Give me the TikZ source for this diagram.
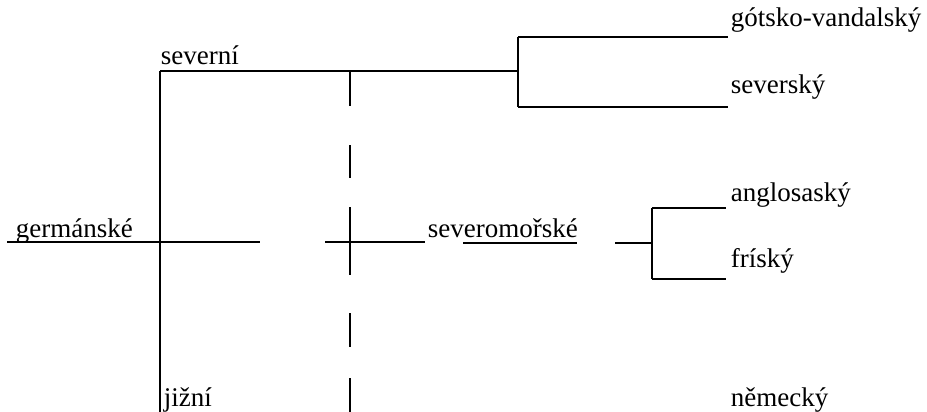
\documentclass[tikz,border=0pt]{standalone}
\usepackage{fontspec}
\setmainfont{Liberation Serif}
\begin{document}
\begin{tikzpicture}[x=1pt,y=-1pt,line width=1.7pt,
  lbl/.style={anchor=base west,inner sep=0pt,font=\fontsize{27}{31}\selectfont}]
\useasboundingbox (0,0) rectangle (927,412);
% labels
\node[lbl] (germ) at (15,237) {germánské};
\node[lbl] (sev) at (160,65) {severní};
\node[lbl] (jiz) at (163,406) {jižní};
\node[lbl] (smor) at (427,237) {severomořské};
\node[lbl] (got) at (730,27) {gótsko-vandalský};
\node[lbl] (sevs) at (730,93) {severský};
\node[lbl] (angl) at (730,201) {anglosaský};
\node[lbl] (fris) at (730,267) {fríský};
\node[lbl] (nem) at (730,406) {německý};
% junctions
\coordinate (g0) at (7,242);
\coordinate (g1) at (260,242);
\coordinate (v0) at (160,71);
\coordinate (v1) at (160,412);
\coordinate (b0) at (518,71);
\coordinate (b1) at (518,37);
\coordinate (b2) at (518,107);
\coordinate (t1) at (728,37);
\coordinate (t2) at (728,107);
\coordinate (c0) at (325,242);
\coordinate (c1) at (425,242);
\coordinate (u0) at (463,243);
\coordinate (u1) at (577,243);
\coordinate (s0) at (615,243);
\coordinate (s1) at (652,243);
\coordinate (s2) at (652,208);
\coordinate (s3) at (652,279);
\coordinate (s4) at (726,208);
\coordinate (s5) at (726,279);
% lines
\draw (g0) -- (g1);
\draw (v0) -- (v1);
\draw (v0) -- (b0);
\draw (b1) -- (b2);
\draw (b1) -- (t1);
\draw (b2) -- (t2);
\draw (c0) -- (c1);
\draw (u0) -- (u1);
\draw (s0) -- (s1);
\draw (s2) -- (s3);
\draw (s2) -- (s4);
\draw (s3) -- (s5);
% dashed vertical
\foreach \a/\b in {71/106,145/178,207/275,313/347,378/412}
  \draw (350,\a) -- (350,\b);
\end{tikzpicture}
\end{document}
